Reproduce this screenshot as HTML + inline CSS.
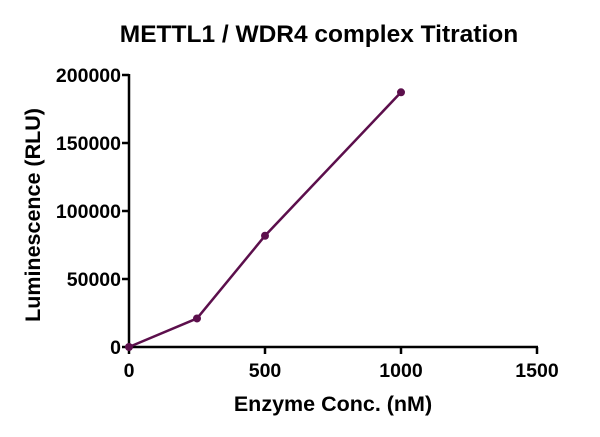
<!DOCTYPE html>
<html><head><meta charset="utf-8"><style>
body{margin:0;background:#fff;}
text{font-family:"Liberation Sans",Arial,sans-serif;font-weight:bold;fill:#000;}
</style></head><body>
<svg id="chart" width="600" height="432" xmlns="http://www.w3.org/2000/svg">
<text x="319" y="42" font-size="24.5" text-anchor="middle">METTL1 / WDR4 complex Titration</text>
<text x="333" y="411" font-size="21.5" text-anchor="middle">Enzyme Conc. (nM)</text>
<text transform="translate(40,215) rotate(-90)" font-size="21.5" text-anchor="middle">Luminescence (RLU)</text>
<g id="axes"></g>
<g id="series"></g>
</svg>
<script>
const xVals=[0,250,500,1000];
const yVals=[0,21000,81800,187300];
const xTicks=[0,500,1000,1500];
const yTicks=[0,50000,100000,150000,200000];
const NS="http://www.w3.org/2000/svg";
const x0=129,x1=537,y0=347,y1=75;
const sx=v=>x0+(v-0)/1500*(x1-x0);
const sy=v=>y0-(v-0)/200000*(y0-y1);
function mk(t,a,p){const e=document.createElementNS(NS,t);for(const k in a)e.setAttribute(k,a[k]);p.appendChild(e);return e;}
const ax=document.getElementById('axes');
const xa=mk('line',{x1:x0,y1:y0,x2:x1+1,y2:y0,stroke:'#000','stroke-width':2.5},ax);


const ya=mk('line',{x1:x0,y1:y0+1,x2:x0,y2:y1-1,stroke:'#000','stroke-width':2.5},ax);


xTicks.forEach(v=>{
 const t=mk('line',{x1:sx(v),y1:y0,x2:sx(v),y2:y0+7,stroke:'#000','stroke-width':2.5},ax);
 
 
 const l=mk('text',{x:sx(v),y:y0+30,'font-size':19.5,'text-anchor':'middle'},ax);
 l.textContent=v;
 
 
});
yTicks.forEach(v=>{
 const t=mk('line',{x1:x0-7,y1:sy(v),x2:x0,y2:sy(v),stroke:'#000','stroke-width':2.5},ax);
 
 
 const l=mk('text',{x:x0-8,y:sy(v)+7,'font-size':19.5,'text-anchor':'end'},ax);
 l.textContent=v;
 
 
});
const sg=document.getElementById('series');
const pts=xVals.map((v,i)=>sx(v)+','+sy(yVals[i])).join(' ');
const pl=mk('polyline',{points:pts,fill:'none',stroke:'#5c0f4c','stroke-width':2.5},sg);


xVals.forEach((v,i)=>{
 const c=mk('circle',{cx:sx(v),cy:sy(yVals[i]),r:4,fill:'#5c0f4c'},sg);
 
 
});
</script>
</body></html>
